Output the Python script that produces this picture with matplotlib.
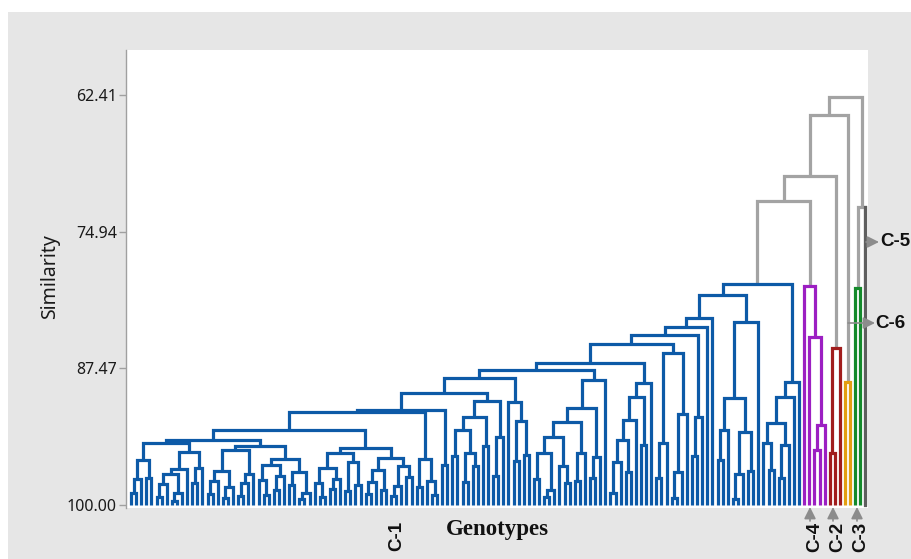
import matplotlib
matplotlib.use("Agg")
import matplotlib.pyplot as plt
from matplotlib.patches import Rectangle

# ---------------- data ----------------
# Subtrees in a Newick-like notation: 'x' = one genotype, the number after ')' = similarity level of the merge
C1_tree = "(((x,x)98.9,x)97.6,(x,x)97.5)95.9"
C2_tree = "(((((x,x)99.3,x)98.1,((x,x)99.6,x)98.9)97.2,x)96.7,((x,x)98.0,x)96.6)95.1"
D1_tree = "((((x,x)99.0,x)97.8,((x,x)99.4,x)98.4)96.9,(((x,x)99.2,x)98.0,x)97.2)95.0"
D2_tree = "(((x,(x,x)99.1)97.7,((x,x)98.6,x)97.3)96.3,((x,x)98.2,((x,x)99.5,x)98.9)97.0)95.8"
E1_tree = "(((x,(x,x)99.3)98.0,((x,x)98.5,x)97.6)96.6,((x,x)98.7,(x,x)98.2)96.1)95.2"
E2_tree = "((((x,x)99.0,x)97.9,(x,x)98.6)96.8,(((x,x)99.2,x)98.3,(x,x)97.4)96.4)95.7"
A_levels = [94.3, 94.6, 94.0, 94.8, 93.1]   # C, D, C+D, E, A
A_tree = ("(((" + C1_tree + "," + C2_tree + ")" + str(A_levels[0]) + ",(" + D1_tree + "," + D2_tree + ")"
          + str(A_levels[1]) + ")" + str(A_levels[2]) + ",(" + E1_tree + "," + E2_tree + ")"
          + str(A_levels[3]) + ")" + str(A_levels[4]))
F_tree = "((x,x)98.4,(x,(x,x)99.1)97.8)95.8"
G_tree = "(x,x)96.3"
H_tree = "((((x,x)95.5,((x,x)97.9,(x,x)96.4)95.2)93.1,(x,x)94.6)91.9,((x,x)97.3,x)93.8)90.5"
I_tree = "(x,((x,x)96.0,(x,x)95.4)92.3)90.6"
J_tree = "((((((x,x)97.6,((x,x)99.3,x)98.6)95.2,(x,(x,x)98.0)96.4)93.8,((x,x)97.8,x)95.2)92.4,((x,x)97.5,x)95.6)91.1,x)88.5"
K_tree = "((((((x,x)98.9,x)96.1,(x,x)97.0)94.0,x)92.2,(x,x)94.5)90.1,x)88.8"
L_tree = "(((x,x)97.5,x)94.3,(((x,x)99.4,x)97.0,x)91.7)86.1"
Mx_tree = "((x,x)95.5,x)91.9"
M_tree = "((((x,x)95.9,x)93.1,(((x,x)99.5,x)97.2,(x,x)96.9)93.3)90.2,x)83.2"
R1_tree = "((((x,(x,x)96.8)94.3,((x,x)97.5,x)94.5)92.5,x)90.1,x)88.7"

blue_groups = [A_tree, F_tree, G_tree, H_tree, I_tree, J_tree, K_tree, L_tree, Mx_tree, "x", "x", M_tree, R1_tree]
blue_levels = [91.5, 91.3, 89.7, 88.4, 87.6, 87.0, 85.2, 84.4, 83.7, 82.9, 80.75, 79.7]

purple_tree = "(x,(x,((x,x)95.0,x)92.7)84.6)79.9"
red_tree = "((x,x)95.2,x)85.6"
orange_tree = "(x,x)88.7"
green_tree = "(x,x)80.1"
gray_tree = "x"

# upper links (similarity levels)
lvl_blue_purple = 72.1
lvl_red = 69.8
lvl_orange = 64.2
lvl_green_gray = 72.7
lvl_root = 62.6

cluster_colors = {"blue": "#0d5aa7", "purple": "#9c1fc2", "red": "#a11d1d",
                  "orange": "#e39f12", "green": "#148a2b", "gray": "#5e5e5e"}
link_color = "#a3a3a3"

yticks = [62.41, 74.94, 87.47, 100.00]


# ---------------- tree helpers ----------------
def parse(s, color):
    pos = 0

    def node():
        nonlocal pos
        if s[pos] == 'x':
            pos += 1
            return {"leaf": True, "h": 100.0, "color": color}
        pos += 1  # '('
        kids = [node()]
        while s[pos] == ',':
            pos += 1
            kids.append(node())
        pos += 1  # ')'
        j = pos
        while pos < len(s) and (s[pos].isdigit() or s[pos] == '.'):
            pos += 1
        return {"leaf": False, "h": float(s[j:pos]), "kids": kids, "color": color}
    return node()


def merge(a, b, h, color):
    return {"leaf": False, "h": h, "kids": [a, b], "color": color}


blue = parse(blue_groups[0], cluster_colors["blue"])
for g, lv in zip(blue_groups[1:], blue_levels):
    blue = merge(blue, parse(g, cluster_colors["blue"]), lv, cluster_colors["blue"])

purple = parse(purple_tree, cluster_colors["purple"])
red = parse(red_tree, cluster_colors["red"])
orange = parse(orange_tree, cluster_colors["orange"])
green = parse(green_tree, cluster_colors["green"])
gray = parse(gray_tree, cluster_colors["gray"])
gray["own"] = True

n1 = merge(blue, purple, lvl_blue_purple, link_color)
n2 = merge(n1, red, lvl_red, link_color)
n3 = merge(n2, orange, lvl_orange, link_color)
n4 = merge(green, gray, lvl_green_gray, link_color)
root = merge(n3, n4, lvl_root, link_color)

counter = [0]


def layout(nd):
    if nd["leaf"]:
        nd["x"] = counter[0]
        counter[0] += 1
    else:
        for k in nd["kids"]:
            layout(k)
        xs = [k["x"] for k in nd["kids"]]
        nd["x"] = (min(xs) + max(xs)) / 2.0


layout(root)
n_leaves = counter[0]

# ---------------- figure ----------------
W, H = 911, 559
fig = plt.figure(figsize=(W / 100, H / 100), dpi=100)
fig.patch.set_facecolor("white")
bg = Rectangle((8 / W, 0), 1 - 8 / W, 1 - 12 / H, transform=fig.transFigure,
               facecolor="#e6e6e6", edgecolor="none", zorder=-10)
fig.patches.append(bg)

ax = fig.add_axes([126 / W, 1 - 508 / H, (868 - 126) / W, (508 - 50) / H])
ax.set_zorder(5)
ax.set_facecolor("white")

LW = 2.3


def draw(nd):
    if nd["leaf"]:
        return
    kids = nd["kids"]
    a, b = kids[0], kids[-1]
    ax.plot([a["x"], a["x"], b["x"], b["x"]], [a["h"], nd["h"], nd["h"], b["h"]],
            color=nd["color"], lw=LW, solid_joinstyle="miter", solid_capstyle="butt", zorder=2)
    for k in kids:
        if k.get("own"):
            ax.plot([k["x"], k["x"]], [k["h"], nd["h"]], color=k["color"], lw=LW,
                    solid_capstyle="projecting", zorder=3)
        draw(k)


draw(root)

ax.set_xlim(-1.0, n_leaves - 1 + 0.5)
ax.set_ylim(100.28, 58.28)
ax.set_xticks([])
ax.set_yticks(yticks)
ax.set_yticklabels([f"{v:.2f}" for v in yticks], fontsize=11.5, family="Noto Sans", color="#1a1a1a")
ax.tick_params(axis="y", length=5, width=1, color="#a0a0a0", pad=1.5)
for s in ["top", "right", "bottom"]:
    ax.spines[s].set_visible(False)
ax.spines["left"].set_color("#a0a0a0")
ax.spines["left"].set_linewidth(1.0)

fig.text(50 / W, 1 - 277 / H, "Similarity", rotation=90, ha="center", va="center",
         fontsize=14, family="Noto Sans", color="#1a1a1a")
fig.text(497 / W, 1 - 530 / H, "Genotypes", ha="center", va="center",
         fontsize=16.5, family="Liberation Serif", fontweight="bold", color="#111111")


def px_to_data_x(px):
    return -1.0 + (px - 126) / (868 - 126) * (n_leaves - 1 + 0.5 + 1.0)


def px_to_data_y(py):
    return 58.28 + (py - 50) / (508 - 50) * (100.28 - 58.28)


lab_kw = dict(fontsize=13.5, family="Liberation Sans", fontweight="bold", color="#111111")
fig.text(397 / W, 1 - 536 / H, "C-1", rotation=90, ha="center", va="center", **lab_kw)
for px, lab in [(815, "C-4"), (838, "C-2"), (861, "C-3")]:
    fig.text(px / W, 1 - 537 / H, lab, rotation=90, ha="center", va="center", **lab_kw)
fig.text(880 / W, 1 - 242 / H, "C-5", ha="left", va="center", **lab_kw)
fig.text(875 / W, 1 - 323 / H, "C-6", ha="left", va="center", **lab_kw)

arrow_kw = dict(arrowstyle="-|>,head_length=0.7,head_width=0.35", color="#8c8c8c", lw=1.2,
                shrinkA=0, shrinkB=0)
for px in [810, 833, 857]:
    ax.annotate("", xy=(px_to_data_x(px), px_to_data_y(507)),
                xytext=(px_to_data_x(px), px_to_data_y(521)),
                arrowprops=arrow_kw, annotation_clip=False)
ax.annotate("", xy=(px_to_data_x(879), px_to_data_y(242)),
            xytext=(px_to_data_x(866), px_to_data_y(242)),
            arrowprops=arrow_kw, annotation_clip=False)
ax.annotate("", xy=(px_to_data_x(875), px_to_data_y(323)),
            xytext=(px_to_data_x(848), px_to_data_y(323)),
            arrowprops=arrow_kw, annotation_clip=False)

fig.savefig("out.png", dpi=100)
